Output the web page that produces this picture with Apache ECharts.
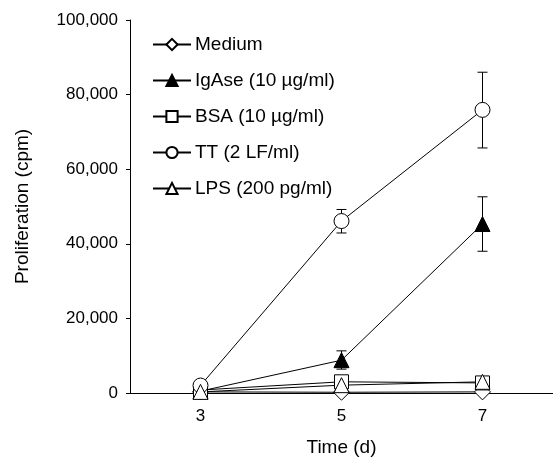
<!DOCTYPE html>
<html>
<head>
<meta charset="utf-8">
<title>Proliferation</title>
<script src="https://cdn.jsdelivr.net/npm/echarts@6/dist/echarts.min.js"></script>
<style>
    html, body { margin: 0; padding: 0; background: #fff; }
    #main { width: 553px; height: 465px; }
</style>
</head>
<body>
<div id="main"></div>
<script>
    // data
    var days = [3, 5, 7];
    var xTicks = [3, 5, 7];
    var medium = [300, 200, 300];
    var igase = [500, 8800, 45300];
    var bsa = [800, 3000, 2700];
    var tt = [2000, 46100, 75900];
    var lps = [300, 2100, 3000];
    // error bars: [day, low, high]
    var ttErr = [[5, 42900, 49200], [7, 65700, 86000]];
    var igaseErr = [[5, 6400, 11300], [7, 38000, 52600]];

    var font = 'Liberation Sans, Arial, sans-serif';

    function pairs(vals) {
        return days.map(function (d, i) { return [d, vals[i]]; });
    }

    function lineSeries(name, vals, symbol, fill, size) {
        return {
            name: name,
            type: 'line',
            data: pairs(vals),
            symbol: symbol,
            symbolSize: size,
            showAllSymbol: true,
            lineStyle: { color: '#000', width: 1 },
            itemStyle: { color: fill, borderColor: '#000', borderWidth: 1 },
            emphasis: { disabled: true },
            z: 3
        };
    }

    function errSeries(rows) {
        return {
            type: 'custom',
            data: rows,
            encode: { x: 0, y: [1, 2] },
            silent: true,
            z: 2,
            renderItem: function (params, api) {
                var lo = api.coord([api.value(0), api.value(1)]);
                var hi = api.coord([api.value(0), api.value(2)]);
                var w = 5;
                var st = { stroke: '#000', lineWidth: 1 };
                return {
                    type: 'group',
                    children: [
                        { type: 'line', shape: { x1: lo[0], y1: lo[1], x2: hi[0], y2: hi[1] }, style: st },
                        { type: 'line', shape: { x1: lo[0] - w, y1: lo[1], x2: lo[0] + w, y2: lo[1] }, style: st },
                        { type: 'line', shape: { x1: hi[0] - w, y1: hi[1], x2: hi[0] + w, y2: hi[1] }, style: st }
                    ]
                };
            }
        };
    }

    var chart = echarts.init(document.getElementById('main'));
    var option = {
        animation: false,
        backgroundColor: '#fff',
        textStyle: { fontFamily: font, color: '#000' },
        grid: { left: 130, top: 20, right: 0, bottom: 72 },
        legend: {
            orient: 'vertical',
            left: 147,
            top: 30,
            itemWidth: 38,
            itemHeight: 14,
            itemGap: 17,
            selectedMode: false,
            textStyle: { fontFamily: font, fontSize: 19, color: '#000', padding: [0, 0, 0, -1] },
            data: ['Medium', 'IgAse (10 µg/ml)', 'BSA (10 µg/ml)', 'TT (2 LF/ml)', 'LPS (200 pg/ml)']
        },
        xAxis: [{
            type: 'value',
            min: 2,
            max: 8,
            interval: 1,
            name: 'Time (d)',
            nameLocation: 'middle',
            nameGap: 45,
            nameTextStyle: { fontFamily: font, fontSize: 19, color: '#000' },
            axisLine: { onZero: false, lineStyle: { color: '#000', width: 1 } },
            axisTick: { show: false },
            splitLine: { show: false },
            axisLabel: { customValues: xTicks, fontSize: 17, color: '#000', margin: 15, fontFamily: font }
        }, {
            type: 'value',
            position: 'top',
            min: 2,
            max: 8,
            axisLine: { show: true, lineStyle: { color: '#000', width: 1 } },
            axisTick: { show: false },
            axisLabel: { show: false },
            splitLine: { show: false }
        }],
        yAxis: {
            type: 'value',
            min: 0,
            max: 100000,
            interval: 20000,
            name: 'Proliferation (cpm)',
            nameLocation: 'middle',
            nameGap: 98,
            nameTextStyle: { fontFamily: font, fontSize: 19, color: '#000' },
            axisLine: { show: true, lineStyle: { color: '#000', width: 1 } },
            axisTick: { show: true, inside: false, length: 4, lineStyle: { color: '#000' } },
            splitLine: { show: false },
            axisLabel: {
                fontSize: 17,
                color: '#000',
                margin: 12,
                fontFamily: font,
                formatter: function (v) { return v.toLocaleString('en-US'); }
            }
        },
        series: [
            errSeries(ttErr),
            errSeries(igaseErr),
            lineSeries('Medium', medium, 'diamond', '#fff', 16),
            lineSeries('IgAse (10 µg/ml)', igase, 'triangle', '#000', 15),
            lineSeries('BSA (10 µg/ml)', bsa, 'rect', '#fff', 14),
            lineSeries('TT (2 LF/ml)', tt, 'circle', '#fff', 15),
            lineSeries('LPS (200 pg/ml)', lps, 'triangle', '#fff', 15)
        ]
    };
    chart.setOption(option);
</script>
</body>
</html>
